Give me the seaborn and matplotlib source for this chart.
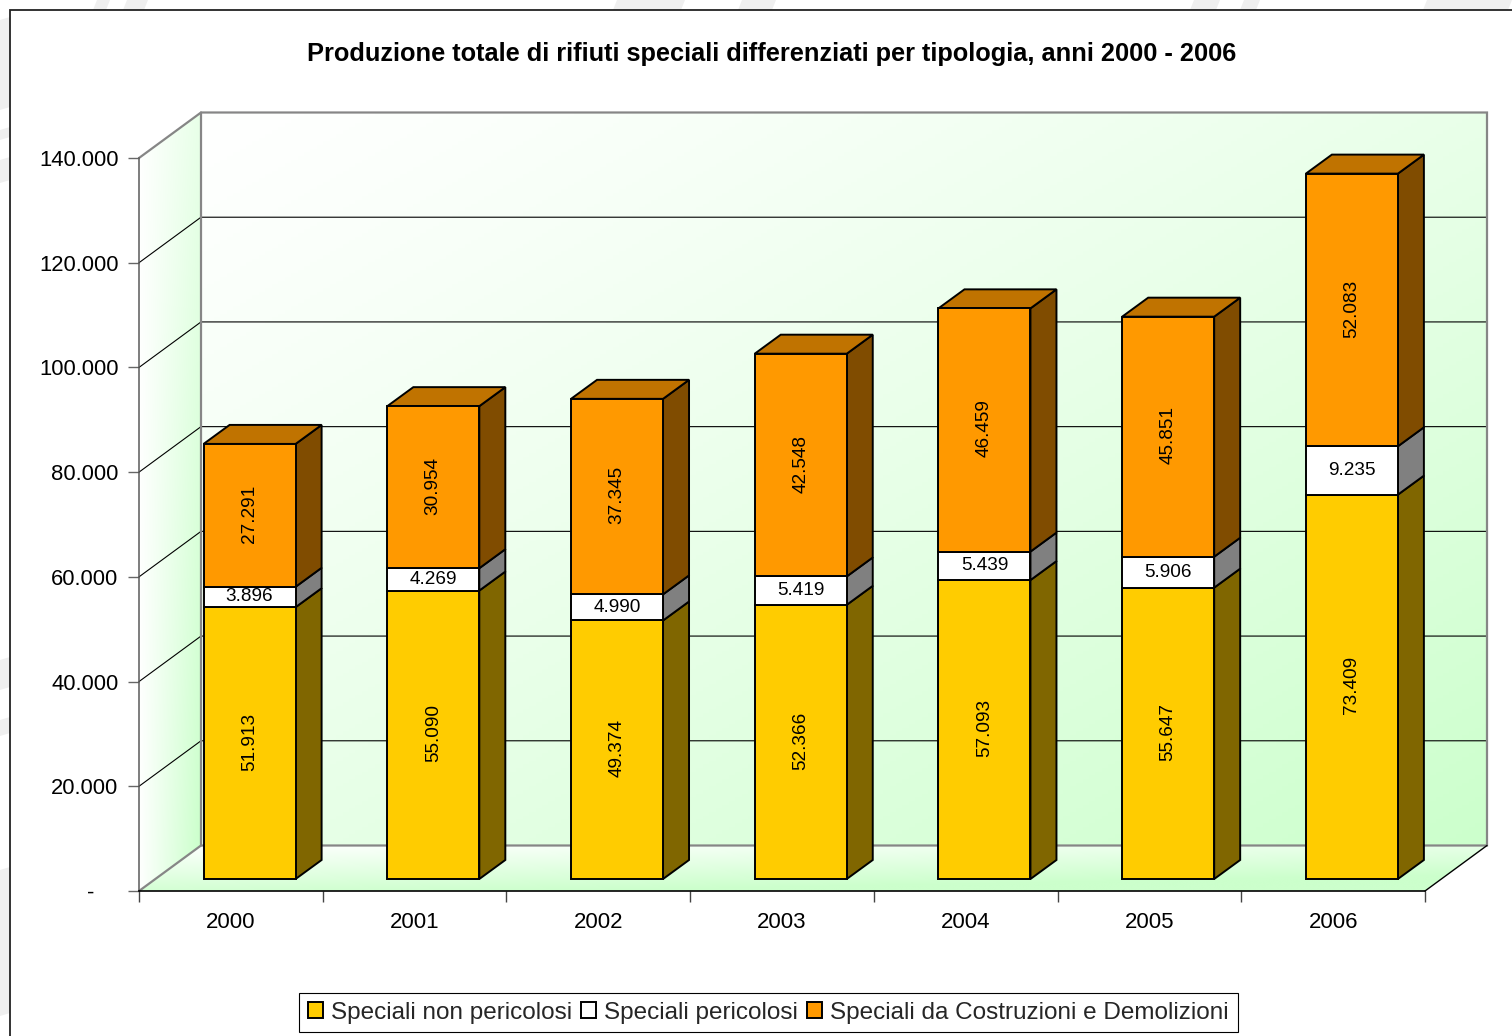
import numpy as np
import pandas as pd
import matplotlib
matplotlib.use('Agg')
import matplotlib.pyplot as plt
from matplotlib.patches import Polygon, Rectangle
from matplotlib.ticker import FuncFormatter, FixedLocator
import seaborn as sns

years = [2000, 2001, 2002, 2003, 2004, 2005, 2006]
non_pericolosi = [51913, 55090, 49374, 52366, 57093, 55647, 73409]
pericolosi = [3896, 4269, 4990, 5419, 5439, 5906, 9235]
costruzioni = [27291, 30954, 37345, 42548, 46459, 45851, 52083]
series_names = ['Speciali non pericolosi', 'Speciali pericolosi', 'Speciali da Costruzioni e Demolizioni']
front_colors = ['#FFCC00', '#FFFFFF', '#FF9900']
side_colors = ['#806600', '#808080', '#804C00']
top_color = '#C07300'
y_ticks = [0, 20000, 40000, 60000, 80000, 100000, 120000, 140000]

W, H = 1512, 1036
sns.set_theme(style='white')
plt.rcParams['font.family'] = ['Liberation Sans', 'DejaVu Sans']

fig = plt.figure(figsize=(W / 100, H / 100), dpi=100, facecolor='white')

# faint page watermark showing around the chart frame (pixels)
for a, b in [(97, 110), (127, 148), (617, 685), (742, 776), (1194, 1220), (1244, 1260), (1427, 1512)]:
    fig.add_artist(Polygon([(a / W, 1), (b / W, 1), ((b - 4) / W, 1 - 10 / H), ((a - 4) / W, 1 - 10 / H)],
                           closed=True, transform=fig.transFigure, fc='#EFEFEF', ec='none', zorder=-1))
for a, b in [(17, 107), (127, 137), (157, 180), (657, 687), (717, 733), (867, 1013)]:
    fig.add_artist(Polygon([(0, 1 - (a + 3) / H), (10 / W, 1 - a / H), (10 / W, 1 - b / H), (0, 1 - (b + 3) / H)],
                           closed=True, transform=fig.transFigure, fc='#EFEFEF', ec='none', zorder=-1))

# front plane of the fake 3d box, in pixels
left, right, top, bottom = 139, 1425, 158, 891
ax = fig.add_axes([left / W, 1 - bottom / H, (right - left) / W, (bottom - top) / H])

px_x = (right - left) / 7
px_y = (bottom - top) / 140000
depth_x = 62 / px_x
depth_y = 45.5 / px_y
bar_w = 92 / px_x

x0, x1 = -0.5, 6.5
yb, yt = 0, 140000

# Walls with gradients
green = np.array([0.80, 1.0, 0.80])
gx, gy = np.meshgrid(np.linspace(0, 1, 200), np.linspace(0, 1, 200))

back_t = (0.5 * gx + 0.5 * gy)[..., None] ** 1.2
ax.imshow((1 - back_t) + back_t * green, extent=(x0 + depth_x, x1 + depth_x, yb + depth_y, yt + depth_y),
          origin='upper', aspect='auto', zorder=0, clip_on=False)

side_poly = Polygon([(x0, yb), (x0 + depth_x, yb + depth_y), (x0 + depth_x, yt + depth_y), (x0, yt)],
                    closed=True, transform=ax.transData, fc='none', ec='none')
ax.add_patch(side_poly)
side_t = np.clip(gx * (0.45 + 0.6 * gy), 0, 1)[..., None]
side = ax.imshow((1 - side_t) + side_t * green, extent=(x0, x0 + depth_x, yb, yt + depth_y),
                 origin='upper', aspect='auto', zorder=0)
side.set_clip_box(fig.bbox)
side.set_clip_path(side_poly)

floor_poly = Polygon([(x0, yb), (x1, yb), (x1 + depth_x, yb + depth_y), (x0 + depth_x, yb + depth_y)],
                     closed=True, transform=ax.transData, fc='none', ec='none')
ax.add_patch(floor_poly)
floor_t = np.clip(0.45 * gx + 0.85 * gy, 0, 1)[..., None]
floor = ax.imshow((1 - floor_t) + floor_t * green, extent=(x0, x1 + depth_x, yb, yb + depth_y),
                  origin='upper', aspect='auto', zorder=0)
floor.set_clip_box(fig.bbox)
floor.set_clip_path(floor_poly)

# Gridlines on the walls
for v in y_ticks[1:-1]:
    ax.plot([x0, x0 + depth_x, x1 + depth_x], [v, v + depth_y, v + depth_y], color='black',
            lw=0.8, zorder=1, clip_on=False)

grey = '#868686'
ax.plot([x0, x0 + depth_x, x1 + depth_x, x1 + depth_x, x0 + depth_x],
        [yt, yt + depth_y, yt + depth_y, yb + depth_y, yb + depth_y],
        color=grey, lw=1.6, zorder=1, clip_on=False, solid_joinstyle='miter')
ax.plot([x0 + depth_x, x0 + depth_x, x0], [yt + depth_y, yb + depth_y, yb], color=grey, lw=1.6, zorder=1, clip_on=False)
ax.plot([x1, x1 + depth_x], [yb, yb + depth_y], color='black', lw=1.0, zorder=1, clip_on=False)

# Stacked bars
positions = np.arange(len(years))
offset = 18.75 / px_x
base = 12 / px_y
dx = 26 / px_x
dy = 19 / px_y
df = pd.DataFrame({'pos': positions + offset})
stack = np.zeros(len(years))
for values, name, fc, sc in zip([non_pericolosi, pericolosi, costruzioni], series_names, front_colors, side_colors):
    values = np.array(values, dtype=float)
    df['value'] = values
    sns.barplot(data=df, x='pos', y='value', native_scale=True, orient='x', width=bar_w,
                bottom=stack + base, color=fc, saturation=1, edgecolor='black', linewidth=1.4,
                label=name, ax=ax, zorder=3, clip_on=False, errorbar=None)
    for i, p in enumerate(positions + offset):
        xr = p + bar_w / 2
        y0 = stack[i] + base
        y1 = y0 + values[i]
        ax.add_patch(Polygon([(xr, y0), (xr + dx, y0 + dy), (xr + dx, y1 + dy), (xr, y1)], closed=True,
                             fc=sc, ec='black', lw=1.4, zorder=2.5, clip_on=False, joinstyle='miter'))
        horizontal = values[i] < 10000
        nudge = 0 if horizontal else 1.5 / px_y
        ax.text(p, y0 + values[i] / 2 + nudge, f'{int(values[i]):,}'.replace(',', '.'),
                rotation=0 if horizontal else 90, ha='center', va='center', fontsize=13.7,
                color='black', zorder=5, clip_on=False)
    stack = stack + values

for i, p in enumerate(positions + offset):
    xl, xr = p - bar_w / 2, p + bar_w / 2
    yy = stack[i] + base
    ax.add_patch(Polygon([(xl, yy), (xr, yy), (xr + dx, yy + dy), (xl + dx, yy + dy)], closed=True,
                         fc=top_color, ec='black', lw=1.4, zorder=2.5, clip_on=False, joinstyle='miter'))

# Axes
ax.set_xlim(x0, x1)
ax.set_ylim(yb, yt)
ax.set_xlabel('')
ax.set_ylabel('')
for s in ['top', 'right']:
    ax.spines[s].set_visible(False)
ax.spines['left'].set_color('#5a5a5a')
ax.spines['left'].set_linewidth(1.1)
ax.spines['bottom'].set_color('black')
ax.spines['bottom'].set_linewidth(1.2)
ax.patch.set_alpha(0)

ax.xaxis.set_major_locator(FixedLocator(positions))
ax.set_xticklabels([str(y) for y in years], fontsize=16, color='black')
ax.xaxis.set_minor_locator(FixedLocator(np.arange(len(years) + 1) - 0.5))
ax.tick_params(axis='x', which='major', length=0, pad=15.4, bottom=True)
ax.tick_params(axis='x', which='minor', length=8, width=1, color='#444444', bottom=True)
ax.set_yticks(y_ticks)
ax.yaxis.set_major_formatter(FuncFormatter(lambda v, pos: '-\u00a0\u00a0\u00a0\u00a0' if v == 0 else f'{int(v):,}'.replace(',', '.')))
ax.tick_params(axis='y', length=8, width=1, color='#666666', pad=6.8, labelsize=15.8, left=True, labelcolor='black')

fig.text(772 / W, 1 - 53.5 / H, 'Produzione totale di rifiuti speciali differenziati per tipologia, anni 2000 - 2006',
         ha='center', va='center', fontsize=18.25, fontweight='bold', color='black')

handles, labels = ax.get_legend_handles_labels()
if ax.get_legend() is not None:
    ax.get_legend().remove()
leg = fig.legend(handles, labels, ncol=3, loc='center', bbox_to_anchor=(768.5 / W, 1 - 1012.5 / H),
                 fontsize=17.5, frameon=True, fancybox=False, framealpha=1, edgecolor='black',
                 handlelength=0.62, handleheight=0.62, handletextpad=0.33, columnspacing=0.37,
                 borderpad=0.37, borderaxespad=0)
leg.get_frame().set_linewidth(0.8)

# chart frame, runs off the right and bottom of the picture
fig.add_artist(Rectangle((10 / W, -0.01), 1.02, 1 - 10 / H + 0.01, transform=fig.transFigure,
                         fc='none', ec='#222222', lw=1.3))

fig.savefig('out.png', dpi=100)
